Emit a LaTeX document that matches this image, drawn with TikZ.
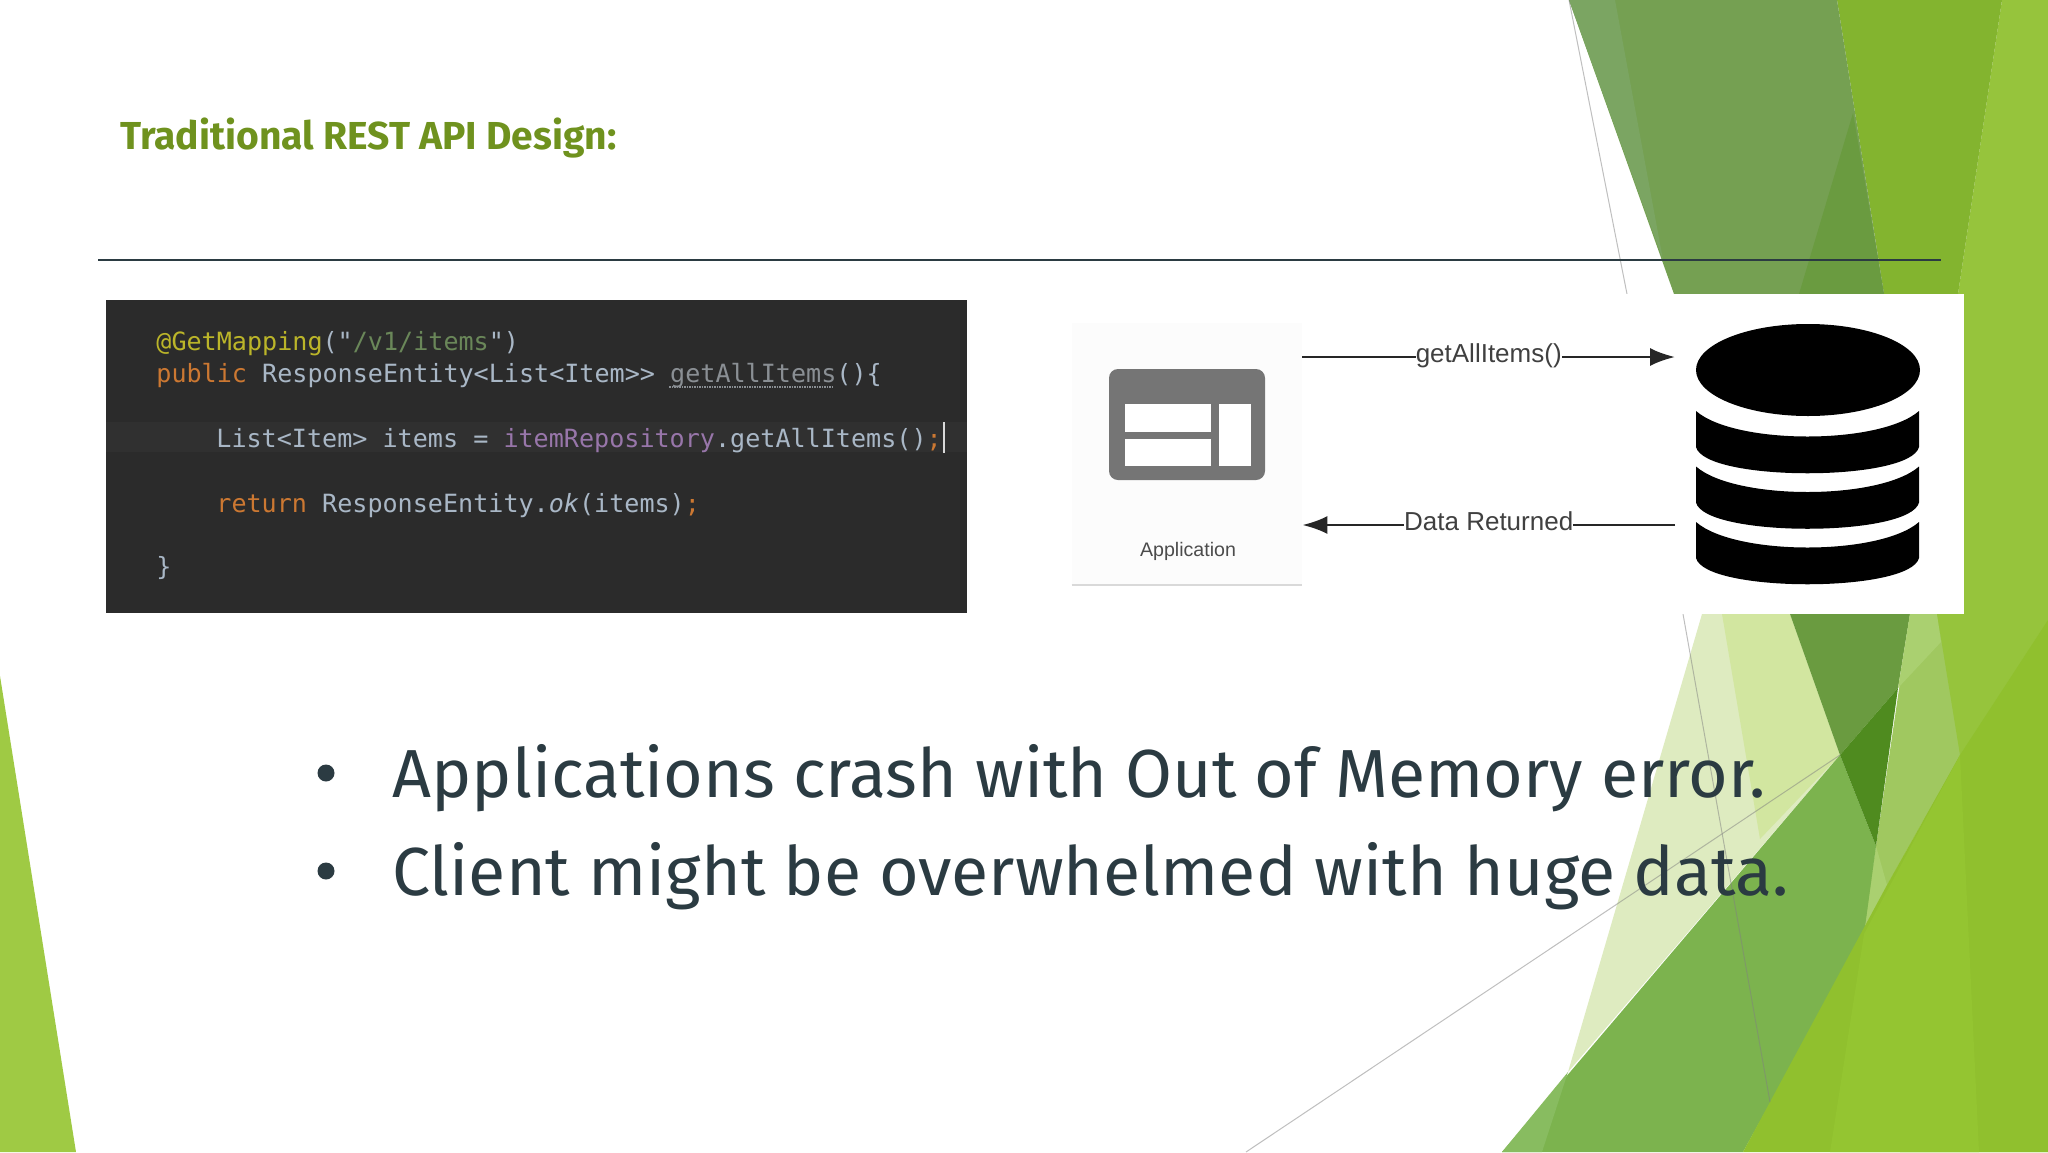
\documentclass[tikz,border=0pt]{standalone}
\usepackage{fontspec}
\setmainfont{Fira Sans}
\setsansfont{Liberation Sans}
\setmonofont{DejaVu Sans Mono}
\usetikzlibrary{positioning, calc, arrows.meta}

\definecolor{titlegreen}{HTML}{6F921E}
\definecolor{slateink}{HTML}{2B3B42}
\definecolor{leafbright}{HTML}{96C43C}
\definecolor{leafleft}{HTML}{9FCA44}
\definecolor{leafolive}{HTML}{83B42F}
\definecolor{leafgrey}{HTML}{75A052}
\definecolor{leafgreyl}{HTML}{7BA562}
\definecolor{leafdark}{HTML}{6A9B40}
\definecolor{leafdeep}{HTML}{4F8B1F}
\definecolor{leafmid}{HTML}{7CB34E}
\definecolor{leafmidl}{HTML}{88BC60}
\definecolor{leafsoft}{HTML}{A0C860}
\definecolor{leafsofter}{HTML}{AAD070}
\definecolor{leafpale}{HTML}{DEEBC0}
\definecolor{leafpaler}{HTML}{D2E6A0}
\definecolor{leaflow}{HTML}{90C02E}
\definecolor{leafband}{HTML}{94C531}
\definecolor{codebg}{HTML}{2B2B2B}
\definecolor{codeline}{HTML}{303030}
\definecolor{codetext}{HTML}{A9B7C6}
\definecolor{codekey}{HTML}{CC7832}
\definecolor{codeanno}{HTML}{BBB529}
\definecolor{codestr}{HTML}{6A8759}
\definecolor{codefield}{HTML}{9876AA}
\definecolor{codedim}{HTML}{8A8F94}

\begin{document}
\begin{tikzpicture}[x=1pt, y=-1pt, thick]
        % Define block styles
        \tikzstyle{bullet} = [anchor=base west, inner sep=0pt, text=slateink, font=\fontsize{68}{80}\selectfont]
        \tikzstyle{dot} = [circle, fill=slateink, inner sep=0pt, minimum size=17pt]
        \tikzstyle{code} = [anchor=base west, inner sep=0pt, text=codetext, font=\ttfamily\fontsize{25.1}{30}\selectfont]
        \tikzstyle{flow} = [draw=black!85, line width=2.5pt, -{Latex[length=25pt, width=18pt]}]
        \tikzstyle{flowlabel} = [fill=white, inner xsep=0pt, inner ysep=1pt, text=black!75, font=\sffamily\fontsize{26}{30}\selectfont]
        \tikzstyle{pane} = [fill=white]
        \tikzstyle{thinline} = [draw=black!50, line width=1pt, opacity=0.5]

        \useasboundingbox (0,0) rectangle (2048,1152);
        \fill [white] (0,0) rectangle (2048,1152);

        % Leaves top right
        \fill [leafbright] (2002,0) -- (2048,0) -- (2048,1152) -- (1900,1152) -- (1958,294) -- cycle;
        \fill [leafolive] (1837,0) -- (2002,0) -- (1958,294) -- (1884,294) -- cycle;
        \fill [leafgrey] (1569,0) -- (1837,0) -- (1884,294) -- (1674,294) -- cycle;
        \fill [leafgreyl] (1569,0) -- (1615,0) -- (1663,260) -- cycle;
        \fill [leafdark] (1853,113) -- (1884,294) -- (1799,294) -- cycle;

        % Leaves bottom right
        \fill [leafpale] (1702,614) -- (1790,614) -- (1840,755) -- (1568,1072) -- cycle;
        \fill [leafpaler] (1722,614) -- (1790,614) -- (1840,755) -- (1760,839) -- cycle;
        \fill [leafdark] (1790,614) -- (1910,614) -- (1898,688) -- (1840,755) -- cycle;
        \fill [leafsoft] (1910,614) -- (1964,614) -- (1960,755) -- (1864,927) -- (1876,846) -- cycle;
        \fill [leafsofter] (1910,614) -- (1937,614) -- (1941,642) -- (1898,688) -- cycle;
        \fill [leafsofter] (1876,846) -- (1887,885) -- (1864,934) -- cycle;
        \fill [leafbright] (1937,614) -- (1964,614) -- (1964,294) -- (2048,294) -- (2048,620) -- (1960,755) -- cycle;
        \fill [leafmid] (1840,755) -- (1876,846) -- (1864,934) -- (1743,1152) -- (1502,1152) -- cycle;
        \fill [leafmidl] (1502,1152) -- (1568,1072) -- (1542,1152) -- cycle;
        \fill [leafdeep] (1840,755) -- (1898,688) -- (1876,846) -- cycle;
        \fill [leaflow] (2048,620) -- (1960,755) -- (1887,885) -- (1743,1152) -- (2048,1152) -- cycle;
        \fill [leafband] (1864,934) -- (1960,755) -- (1979,1152) -- (1830,1152) -- cycle;

        % Leaf bottom left
        \fill [leafleft] (0,676) -- (76,1152) -- (0,1152) -- cycle;

        % Thin lines
        \draw [thinline] (1569,0) -- (1627,294);
        \draw [thinline] (1683,614) -- (1770,1102);
        \draw [thinline] (1246,1152) -- (1840,755);

        % Title and rule
        \node [anchor=base west, inner sep=0pt, text=titlegreen, font=\bfseries\fontsize{39}{44}\selectfont] (title) at (120,149) {Traditional REST API Design:};
        \coordinate (ruleleft) at (98,260);
        \coordinate (ruleright) at (1941,260);
        \draw [slateink, line width=2.5pt] (ruleleft) -- (ruleright);

        % Code panel
        \node [fill=codebg, minimum width=861pt, minimum height=313pt, inner sep=0pt] (panel) at (536.5,456.5) {};
        \fill [codeline] (106,422) rectangle (967,452);
        \node [code] (line1) at (156,350) {\textcolor{codeanno}{@GetMapping}("\textcolor{codestr}{/v1/items}")};
        \node [code] (line2) at (156,382) {\textcolor{codekey}{public} ResponseEntity<List<Item>{}> \textcolor{codedim}{getAllItems}()\{};
        \node [code] (line3) at (216,447) {List<Item> items = \textcolor{codefield}{itemRepository}.getAllItems()\textcolor{codekey}{;}};
        \node [code] (line4) at (216,512) {\textcolor{codekey}{return} ResponseEntity.\textit{ok}(items)\textcolor{codekey}{;}};
        \node [code] (line5) at (156,575) {\}};
        \draw [codedim, densely dotted, line width=1.5pt] (669,387) -- (834,387);
        \fill [white!85!black] (943,422) rectangle (945,453);

        % Diagram image
        \fill [white] (1060,294) rectangle (1964,614);
        \node [fill=white!99!black, minimum width=230pt, minimum height=262pt, inner sep=0pt] (app) at (1187,454) {};
        \draw [black!15, line width=2pt] (app.south west) -- (app.south east);
        \node [fill=black!54, rounded corners=9pt, minimum width=156pt, minimum height=111pt, inner sep=0pt] (window) at (1187,424.5) {};
        \fill [pane] (1125,404) rectangle (1211,432);
        \fill [pane] (1125,439) rectangle (1211,466);
        \fill [pane] (1219,404) rectangle (1251,466);
        \node [inner sep=0pt, text=black!70, font=\sffamily\fontsize{19.6}{24}\selectfont, anchor=base] (applabel) at (1188,556) {Application};

        % Database
        \node [minimum width=223pt, minimum height=258pt, inner sep=0pt, outer xsep=21pt] (db) at (1807.5,453) {};
        \fill [black] (1808,370) ellipse [x radius=112, y radius=46];
        \foreach \dy in {0, 55.5, 111}
            \fill [black, shift={(0,\dy)}] (1696,411) .. controls (1735,445) and (1880,445) .. (1919,411) -- (1919,447) .. controls (1910,482) and (1705,482) .. (1696,447) -- cycle;

        % Draw connections as arrows
        \coordinate (callrow) at (1490,357);
        \coordinate (datarow) at (1490,525);
        \draw [flow] (app.east |- callrow) -- node [flowlabel, yshift=1pt] (call) {getAllItems()} (db.west |- callrow);
        \draw [flow] (db.west |- datarow) -- node [flowlabel, yshift=4pt] (data) {Data Returned} (app.east |- datarow);

        % Bullets
        \node [dot] (dot1) at (326,773) {};
        \node [dot] (dot2) at (326,871) {};
        \node [bullet] (point1) at (392,797) {Applications crash with Out of Memory error.};
        \node [bullet] (point2) at (392,895) {Client might be overwhelmed with huge data.};
\end{tikzpicture}
\end{document}
